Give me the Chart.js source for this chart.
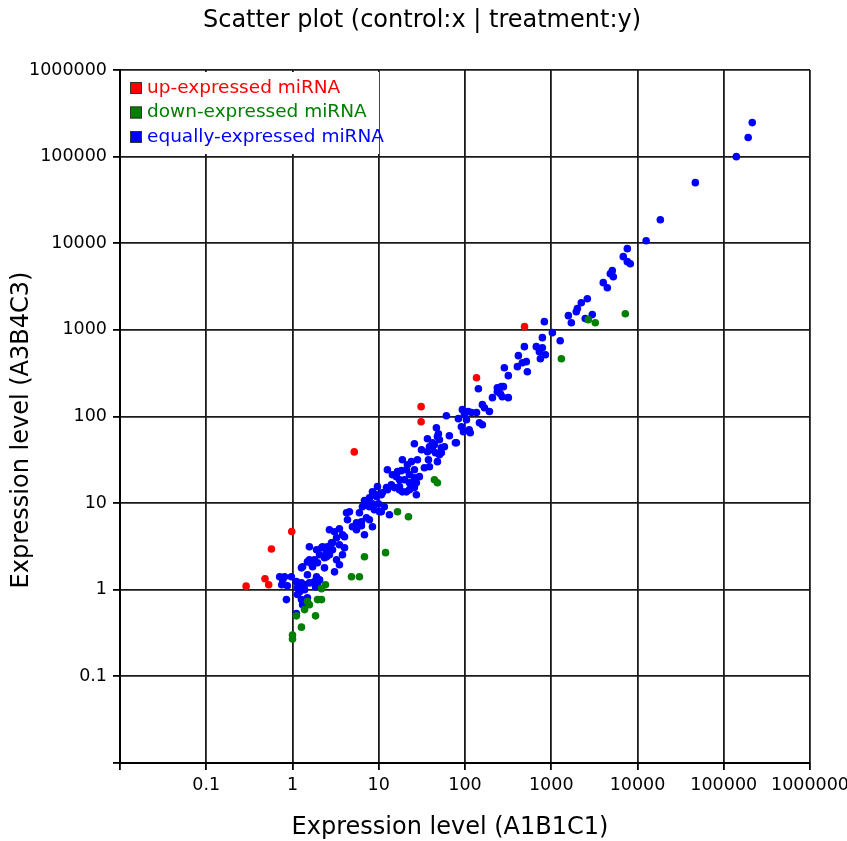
<!DOCTYPE html>
<html>
<head>
<meta charset="utf-8">
<script src="https://cdn.jsdelivr.net/npm/chart.js@4.4.0/dist/chart.umd.min.js"></script>
<style>
  body { margin: 0; background: #fff; }
</style>
</head>
<body>
<canvas id="myChart" width="847" height="841"></canvas>
<script>
let seriesNames = ['up-expressed miRNA', 'down-expressed miRNA', 'equally-expressed miRNA']
let colorHex = ['#ff0000', '#008000', '#0000ff']
let tickValues = [0.01, 0.1, 1, 10, 100, 1000, 10000, 100000, 1000000]

// up-expressed (red)
let upX = [0.29, 0.48, 0.53, 0.57, 0.98, 5.2, 31, 31, 136, 490]
let upY = [1.1, 1.34, 1.14, 2.95, 4.7, 39, 130, 87, 280, 1090]

// down-expressed (green)
let downX = [1.0, 1.0, 1.11, 1.27, 1.38, 1.49, 1.57, 1.85, 1.95, 2.17, 2.41, 2.17,
    4.83, 5.97, 6.83, 12.0, 16.5, 22.1, 44.2, 47.9, 1310, 2690, 3240, 7220]
let downY = [0.30, 0.27, 0.50, 0.37, 0.59, 0.73, 0.67, 0.50, 0.77, 0.77, 1.14, 1.03,
    1.41, 1.41, 2.40, 2.68, 7.96, 6.97, 18.6, 17.2, 465, 1312, 1210, 1538]

// equally-expressed (blue)
let equalX = [0.71, 0.81, 0.75, 0.87, 0.97, 0.77, 1.11, 1.27, 1.38, 1.57, 1.14, 1.31,
    1.21, 1.38, 1.14, 1.27, 1.49, 1.31, 1.85, 1.95, 1.27, 1.49, 1.90, 2.06,
    1.80, 1.49, 1.66, 1.80, 1.95, 2.35, 2.68, 3.24, 3.80, 3.50, 1.57, 1.90,
    2.17, 2.54, 2.91, 3.50, 2.68, 3.07, 3.50, 4.01, 3.24, 2.83, 2.06, 2.48,
    4.01, 4.23, 4.57, 4.34, 5.52, 6.30, 7.20, 7.80, 8.45, 6.83, 4.95, 6.30,
    6.83, 7.80, 9.40, 11.0, 11.6, 10.7, 7.40, 8.45, 9.92, 6.47, 5.97, 13.3,
    9.66, 8.45, 9.40, 14.0, 15.2, 12.6, 17.4, 18.8, 16.0, 17.4, 19.9, 22.7,
    25.9, 22.7, 27.3, 12.6, 18.3, 20.9, 22.7, 25.9, 18.8, 21.5, 28.1, 25.9,
    37.7, 47.9, 38.7, 33.8, 46.6, 36.7, 25.9, 47.9, 50.5, 57.7, 53.2, 41.9,
    38.7, 41.9, 36.7, 45.4, 50.5, 77.4, 60.8, 90.8, 95.8, 115, 83.8, 104,
    93.3, 109, 119, 136, 147, 159, 159, 168, 192, 208, 237, 264,
    271, 318, 257, 143, 237, 279, 65.9, 49.2, 112, 286, 318, 405,
    462, 514, 416, 528, 488, 671, 789, 728, 855, 748, 789, 832,
    1030, 1270, 1580, 1710, 1950, 2010, 2230, 2620, 2990, 2480, 4010, 4470,
    4840, 5100, 5240, 6840, 7620, 8250, 7620, 12600, 18400, 46800, 140000, 192000,
    214000, 1.57, 1.31, 1.71, 2.23, 2.48, 2.91, 3.80, 5.52, 10.7, 7.80, 8.91,
    10.2, 0.85, 1.11, 2.35, 3.07, 31.3, 23.9, 29.6, 27.3, 16.5, 14.4, 12.3,
    17.4, 20.9, 44.2, 53.2, 98.4, 79.5]
let equalY = [1.41, 1.41, 1.14, 1.11, 1.41, 1.30, 1.24, 1.20, 1.14, 1.20, 1.05, 1.05,
    0.95, 1.0, 0.88, 0.77, 0.81, 0.67, 1.08, 1.20, 1.79, 1.49, 1.41, 1.30,
    1.24, 2.10, 2.0, 2.22, 2.05, 2.34, 2.54, 2.22, 2.54, 1.94, 3.14, 2.90,
    3.05, 3.14, 3.49, 3.31, 4.93, 4.68, 5.06, 4.09, 3.98, 3.49, 2.54, 2.40,
    3.05, 7.74, 7.96, 6.43, 5.94, 6.10, 6.78, 6.43, 5.34, 4.32, 5.34, 5.48,
    10.7, 11.5, 11.9, 13.2, 9.08, 7.96, 10.1, 9.84, 9.84, 9.08, 7.74, 7.35,
    15.5, 13.5, 12.5, 16.3, 15.1, 14.3, 15.5, 13.5, 20.2, 18.6, 18.6, 17.2,
    15.1, 14.3, 12.5, 24.3, 23.7, 24.3, 21.3, 19.6, 31.7, 27.7, 31.7, 24.3,
    31.7, 30.1, 26.3, 25.6, 74.3, 55.4, 48.5, 58.5, 54.0, 44.8, 43.6, 49.8,
    44.8, 41.4, 39.2, 38.2, 36.2, 49.8, 102, 76.2, 66.7, 65.0, 94.4, 91.8,
    120, 114, 111, 111, 84.8, 80.4, 137, 126, 114, 165, 193, 221,
    169, 165, 183, 209, 215, 221, 60.0, 63.3, 70, 366, 296, 376,
    418, 430, 504, 329, 640, 640, 622, 560, 517, 465, 813, 1245,
    929, 750, 1460, 1210, 1620, 1760, 2060, 2290, 1500, 1350, 3510, 3070,
    4450, 4830, 4110, 7000, 6130, 5810, 8660, 10700, 18700, 50100, 100000, 166000,
    247000, 2.22, 1.84, 1.84, 3.14, 2.75, 2.90, 4.32, 4.93, 12.5, 9.08, 8.39,
    7.96, 0.77, 0.53, 1.79, 1.61, 41.4, 30.1, 20.2, 17.2, 23.1, 21.3, 15.1,
    14.3, 13.5, 47.2, 38.2, 105, 49.8]

let toPoints = (xs, ys) => xs.map((x, i) => ({ x: x, y: ys[i] }))

let fontFamily = '"DejaVu Sans", sans-serif'

// legend box inside the plot + titles
let decor = {
    id: 'decor',
    afterDraw(chart) {
        let c = chart.ctx
        let area = chart.chartArea
        c.save()
        c.fillStyle = '#fff'
        c.fillRect(area.left + 2, area.top + 2, 257, 82)
        c.font = '18.5px ' + fontFamily
        c.textBaseline = 'middle'
        c.textAlign = 'left'
        seriesNames.forEach((name, i) => {
            let y = area.top + 18 + i * 24.5
            c.fillStyle = colorHex[i]
            c.fillRect(area.left + 10, y - 6, 12, 12)
            c.strokeStyle = '#333'
            c.lineWidth = 1
            c.strokeRect(area.left + 10.5, y - 5.5, 11, 11)
            c.fillStyle = colorHex[i]
            c.fillText(name, area.left + 27, y)
        })

        c.fillStyle = '#000'
        c.textAlign = 'center'
        c.font = '24px ' + fontFamily
        c.fillText('Scatter plot (control:x | treatment:y)', 422, 21)
        c.fillText('Expression level (A1B1C1)', 450, 828)
        c.translate(22, 430)
        c.rotate(-Math.PI / 2)
        c.fillText('Expression level (A3B4C3)', 0, 0)
        c.restore()
    }
}

let axisOptions = (isX) => ({
    type: 'logarithmic',
    min: 0.01,
    max: 1000000,
    z: 1,
    afterBuildTicks: (scale) => {
        scale.ticks = tickValues.map(v => ({ value: v }))
    },
    afterFit: (scale) => {
        if (isX) {
            scale.height = 78
            scale.paddingLeft = 0
            scale.paddingRight = 0
        } else {
            scale.width = 120
            scale.paddingTop = 0
            scale.paddingBottom = 0
        }
    },
    ticks: {
        autoSkip: false,
        maxRotation: 0,
        padding: isX ? 5 : 6,
        color: '#000',
        font: { size: 17.5, family: fontFamily },
        callback: (value) => value < 0.05 ? '' : String(value)
    },
    grid: {
        color: '#1a1a1a',
        lineWidth: 1.8,
        tickLength: 7,
        tickColor: '#000'
    },
    border: {
        color: '#000',
        width: 2
    }
})

let ctx = document.getElementById('myChart').getContext('2d')
let myChart = new Chart(ctx, {
    type: 'scatter',
    data: {
        datasets: [{
            label: seriesNames[0],
            data: toPoints(upX, upY),
            backgroundColor: colorHex[0]
        }, {
            label: seriesNames[1],
            data: toPoints(downX, downY),
            backgroundColor: colorHex[1]
        }, {
            label: seriesNames[2],
            data: toPoints(equalX, equalY),
            backgroundColor: colorHex[2]
        }]
    },
    options: {
        responsive: false,
        animation: false,
        layout: {
            padding: { top: 70, right: 37, left: 0, bottom: 0 }
        },
        elements: {
            point: { radius: 3.8, borderWidth: 0 }
        },
        plugins: {
            legend: { display: false },
            tooltip: { enabled: false }
        },
        scales: {
            x: axisOptions(true),
            y: axisOptions(false)
        }
    },
    plugins: [decor]
})
</script>
</body>
</html>
